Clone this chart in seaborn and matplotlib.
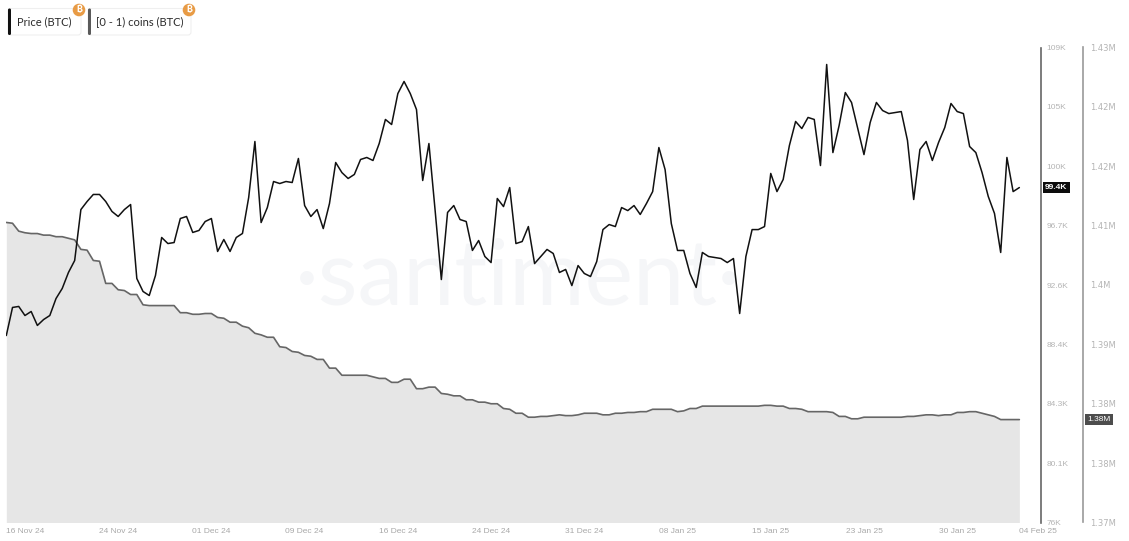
import matplotlib
matplotlib.use("Agg")
import matplotlib.pyplot as plt
from matplotlib.patches import FancyBboxPatch, Circle
import pandas as pd
import seaborn as sns

price_k = [
 88.99,90.94,91.01,90.38,90.66,89.69,90.10,90.38,91.56,92.26,93.37,94.20,97.74,98.30,98.79,98.79,98.30,97.61,97.26,97.74,
 98.09,92.95,92.05,91.77,93.16,95.80,95.38,95.45,97.12,97.26,96.15,96.29,96.91,97.12,94.83,95.66,94.83,95.80,96.08,98.58,
 102.47,96.84,97.88,99.69,99.55,99.69,99.62,101.29,98.02,97.26,97.74,96.42,98.16,101.01,100.31,99.90,100.18,101.22,101.36,101.15,
 102.33,104.00,103.65,105.80,106.64,105.80,104.69,99.76,102.33,97.67,92.88,97.54,98.02,97.05,96.91,94.90,95.59,94.48,94.06,98.51,
 97.95,99.27,95.38,95.52,96.56,93.99,94.48,94.97,94.69,93.37,93.58,92.46,93.85,93.30,93.09,94.13,96.35,96.70,96.56,97.88,
 97.67,98.02,97.40,98.16,98.99,102.05,100.52,96.77,94.90,94.90,93.30,92.33,94.76,94.48,94.41,94.34,94.06,94.34,90.52,94.48,
 96.35,96.35,96.56,100.25,98.99,99.83,102.19,103.86,103.37,104.14,104.00,100.80,107.82,101.70,103.58,105.87,105.18,103.37,101.56,103.79,
 105.18,104.62,104.41,104.48,104.55,102.54,98.44,101.91,102.47,101.15,102.40,103.44,105.11,104.55,104.41,102.12,101.70,100.31,98.65,97.47,
 94.76,101.36,98.99,99.27,
]
coins_k = [
 1407.9,1407.8,1406.8,1406.6,1406.5,1406.5,1406.3,1406.3,1406.1,1406.1,1405.9,1405.7,1404.5,1404.4,1403.1,1403.0,1400.2,1400.2,1399.4,1399.3,
 1398.8,1398.8,1397.5,1397.4,1397.4,1397.4,1397.4,1397.4,1396.5,1396.5,1396.3,1396.3,1396.4,1396.4,1395.9,1395.8,1395.3,1395.3,1394.8,1394.6,
 1393.9,1393.7,1393.4,1393.4,1392.2,1392.1,1391.6,1391.5,1391.1,1391.0,1390.6,1390.6,1389.5,1389.5,1388.6,1388.6,1388.6,1388.6,1388.6,1388.4,
 1388.2,1388.2,1387.7,1387.7,1388.1,1388.1,1386.9,1386.9,1387.1,1387.1,1386.3,1386.2,1386.0,1386.0,1385.5,1385.5,1385.2,1385.2,1385.0,1385.0,
 1384.4,1384.3,1383.8,1383.8,1383.3,1383.3,1383.4,1383.4,1383.5,1383.6,1383.5,1383.5,1383.6,1383.8,1383.8,1383.8,1383.6,1383.6,1383.8,1383.8,
 1383.9,1383.9,1384.0,1384.0,1384.3,1384.3,1384.3,1384.3,1384.0,1384.1,1384.4,1384.4,1384.7,1384.7,1384.7,1384.7,1384.7,1384.7,1384.7,1384.7,
 1384.7,1384.7,1384.8,1384.8,1384.7,1384.7,1384.4,1384.4,1384.3,1384.0,1384.0,1384.0,1384.0,1383.9,1383.4,1383.4,1383.1,1383.1,1383.3,1383.3,
 1383.3,1383.3,1383.3,1383.3,1383.3,1383.4,1383.4,1383.5,1383.6,1383.6,1383.5,1383.6,1383.6,1383.9,1383.9,1384.0,1384.0,1383.8,1383.6,1383.4,
 1383.0,1383.0,1383.0,1383.0,
]
dates = pd.date_range("2024-11-15", periods=len(price_k), freq="12h")
x_tick_dates = ["2024-11-16 12:00","2024-11-24 00:00","2024-12-01 12:00","2024-12-09 00:00","2024-12-16 12:00","2024-12-24 00:00",
                "2024-12-31 12:00","2025-01-08 00:00","2025-01-15 12:00","2025-01-23 00:00","2025-01-30 12:00","2025-02-04 12:00"]
x_tick_labels = ["16 Nov 24","24 Nov 24","01 Dec 24","09 Dec 24","16 Dec 24","24 Dec 24",
                 "31 Dec 24","08 Jan 25","15 Jan 25","23 Jan 25","30 Jan 25","04 Feb 25"]
price_ticks = [76,80.125,84.25,88.375,92.5,96.625,100.75,104.875,109]
price_labels = ["76K","80.1K","84.3K","88.4K","92.6K","96.7K","100K","105K","109K"]
coin_ticks = [1370,1377.5,1385,1392.5,1400,1407.5,1415,1422.5,1430]
coin_labels = ["1.37M","1.38M","1.38M","1.39M","1.4M","1.41M","1.42M","1.42M","1.43M"]
legend_names = ["Price (BTC)","[0 - 1) coins (BTC)"]
df = pd.DataFrame({"date": dates, "price": price_k, "coins": coins_k})

sns.set_theme(style="white")
W, H = 1129, 541
fig = plt.figure(figsize=(W/100, H/100), dpi=100, facecolor="white")
font = ["Liberation Sans", "DejaVu Sans"]
tick_col = "#b4b4b4"

L, R, T, B = 6.3, 1041, 47.5, 522.5
ax2 = fig.add_axes([L/W, 1-B/H, (R-L)/W, (B-T)/H])     # coins, drawn below
ax = ax2.twinx()                                       # price, drawn above
ax2.set_facecolor("white")
ax.patch.set_visible(False)

ax2.text(0.4946, 0.458, "\u00b7santiment\u00b7", transform=ax2.transAxes, ha="center", va="baseline",
         fontsize=66, family="Lato", color="#f5f6f8", zorder=0)

ax2.fill_between(df["date"], coins_k, 1370, color="#e6e6e6", lw=0, zorder=1)
sns.lineplot(data=df, x="date", y="coins", ax=ax2, color="#666666", lw=1.2, zorder=2)
sns.lineplot(data=df, x="date", y="price", ax=ax, color="#111111", lw=1.1, zorder=3)

xmax = df["date"].iloc[0] + (df["date"].iloc[1]-df["date"].iloc[0]) * ((R-L)/6.215)
for a in (ax, ax2):
    a.set_xlim(df["date"].iloc[0], xmax)
    a.set_xlabel(""); a.set_ylabel("")
    a.grid(False)
    for s in ("left","top","bottom"):
        a.spines[s].set_visible(False)
ax.set_ylim(76, 109)
ax2.set_ylim(1370, 1430)

ax2.set_xticks(pd.to_datetime(x_tick_dates))
ax2.set_xticklabels(x_tick_labels, fontsize=6, color="#a8a8a8", family=font)
ax2.tick_params(axis="x", length=0, pad=4)
ax2.get_xticklabels()[-1].set_ha("left")

ax2.yaxis.tick_right()
ax2.set_yticks(coin_ticks)
ax2.set_yticklabels(coin_labels)
ax2.tick_params(axis="y", length=0, pad=5, right=True, left=False, labelright=True, labelleft=False,
                labelsize=6, labelcolor=tick_col)
for t in ax2.yaxis.get_major_ticks():
    t.label2.set_family(font)
ax2.spines["right"].set_visible(True)
ax2.spines["right"].set_position(("outward", 42*0.72))
ax2.spines["right"].set_color("#9a9a9a")
ax2.spines["right"].set_linewidth(1.2)

ax.set_yticks(price_ticks)
ax.set_yticklabels(price_labels)
ax.tick_params(axis="y", length=0, pad=4, labelsize=6, labelcolor=tick_col)
for t in ax.yaxis.get_major_ticks():
    t.label2.set_family(font)
ax.spines["right"].set_visible(True)
ax.spines["right"].set_color("#666666")
ax.spines["right"].set_linewidth(1.2)

# last value badges
ax.annotate(f"{price_k[-1]+0.13:.1f}K", xy=(1.0, price_k[-1]), xycoords=("axes fraction","data"),
            xytext=(11, 0), textcoords="offset points", ha="center", va="center",
            fontsize=6, color="white", family=font, fontweight="bold", annotation_clip=False,
            bbox=dict(boxstyle="square,pad=0.28", fc="#0c0c0c", ec="none"), zorder=6)
ax2.annotate("1.38M", xy=(1.0, coins_k[-1]), xycoords=("axes fraction","data"),
             xytext=(41.5, 0), textcoords="offset points", ha="center", va="center",
             fontsize=6, color="white", family=font, annotation_clip=False,
             bbox=dict(boxstyle="square,pad=0.28", fc="#4d4d4d", ec="none"), zorder=6)

# metric chips along the top
ui = fig.add_axes([0, 0, 1, 1], facecolor="none")
ui.set_xlim(0, W); ui.set_ylim(H, 0); ui.axis("off")
chips = [(8, 81, "#111111", 17), (88, 191, "#5a5a5a", 96.5)]
for (x0, x1, col, tx), name in zip(chips, legend_names):
    ui.add_patch(FancyBboxPatch((x0, 8.5), x1-x0, 26.5, boxstyle="round,pad=0,rounding_size=3",
                                fc="white", ec="#efefef", lw=0.8))
    ui.add_patch(FancyBboxPatch((x0, 8.5), 3, 26.5, boxstyle="round,pad=0,rounding_size=1.4",
                                fc=col, ec="none"))
    ui.text(tx, 22, name, fontsize=8, family="Lato", color="#2b2b2b", va="center", ha="left")
    ui.add_patch(Circle((x1-2, 10), 6.3, fc="#e89b45", ec="none"))
    ui.text(x1-2, 10, "\u20bf", fontsize=6.5, family=["Inter", "Roboto", "Noto Sans", "Open Sans"],
            color="white", ha="center", va="center", fontweight="bold")

fig.savefig("out.png", dpi=100)
